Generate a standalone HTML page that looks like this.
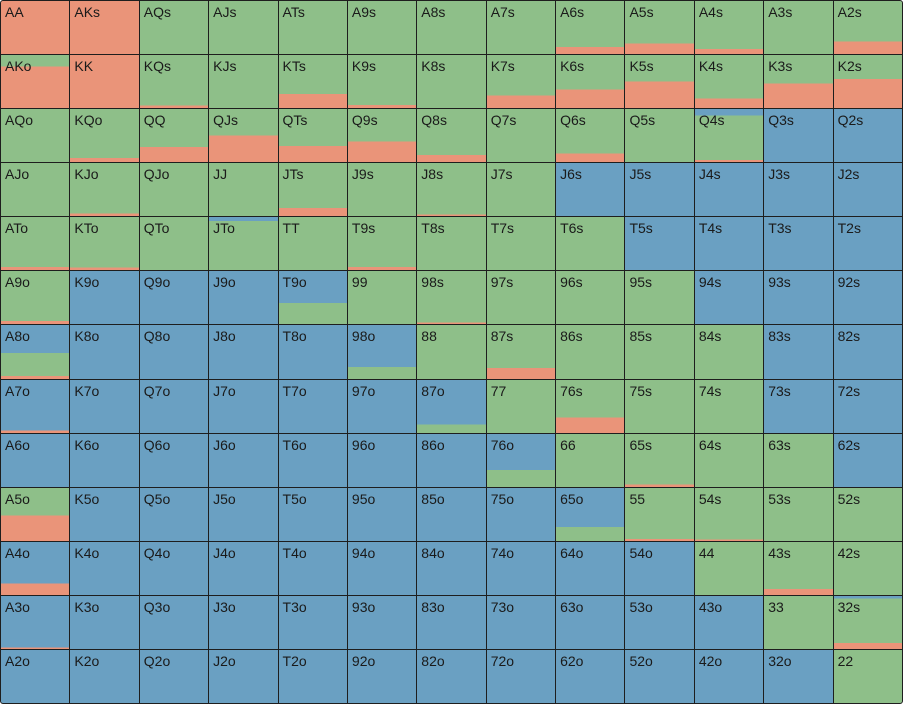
<!DOCTYPE html>
<html><head><meta charset="utf-8"><style>
html,body{margin:0;padding:0;background:#fff}
#g{position:absolute;left:0;top:0;width:903px;height:704px;box-sizing:border-box;border:1.5px solid #1e1e1e;border-radius:3px;background:#1e1e1e;display:grid;grid-template-columns:repeat(13,1fr);grid-template-rows:repeat(13,1fr);gap:1px;overflow:hidden}
#g div{font-family:"Liberation Sans",Arial,sans-serif;font-size:14px;color:#1a1a1a;padding:4px 0 0 4px;box-sizing:border-box;background:#8EBF89;line-height:15px}
.B{background:#6AA0C2!important}
.R{background:#EA9479!important}
</style></head><body><div id="g">
<div class="R">AA</div><div class="R">AKs</div><div>AQs</div><div>AJs</div><div>ATs</div><div>A9s</div><div>A8s</div><div>A7s</div><div style="background:linear-gradient(#8EBF89 87%,#EA9479 87%)">A6s</div><div style="background:linear-gradient(#8EBF89 80%,#EA9479 80%)">A5s</div><div style="background:linear-gradient(#8EBF89 91%,#EA9479 91%)">A4s</div><div>A3s</div><div style="background:linear-gradient(#8EBF89 76%,#EA9479 76%)">A2s</div>
<div style="background:linear-gradient(#8EBF89 22%,#EA9479 22%)">AKo</div><div class="R">KK</div><div style="background:linear-gradient(#8EBF89 95%,#EA9479 95%)">KQs</div><div>KJs</div><div style="background:linear-gradient(#8EBF89 74%,#EA9479 74%)">KTs</div><div style="background:linear-gradient(#8EBF89 94%,#EA9479 94%)">K9s</div><div>K8s</div><div style="background:linear-gradient(#8EBF89 76%,#EA9479 76%)">K7s</div><div style="background:linear-gradient(#8EBF89 65%,#EA9479 65%)">K6s</div><div style="background:linear-gradient(#8EBF89 50%,#EA9479 50%)">K5s</div><div style="background:linear-gradient(#8EBF89 82%,#EA9479 82%)">K4s</div><div style="background:linear-gradient(#8EBF89 54%,#EA9479 54%)">K3s</div><div style="background:linear-gradient(#8EBF89 45%,#EA9479 45%)">K2s</div>
<div>AQo</div><div style="background:linear-gradient(#8EBF89 92%,#EA9479 92%)">KQo</div><div style="background:linear-gradient(#8EBF89 72%,#EA9479 72%)">QQ</div><div style="background:linear-gradient(#8EBF89 50%,#EA9479 50%)">QJs</div><div style="background:linear-gradient(#8EBF89 70%,#EA9479 70%)">QTs</div><div style="background:linear-gradient(#8EBF89 61%,#EA9479 61%)">Q9s</div><div style="background:linear-gradient(#8EBF89 87%,#EA9479 87%)">Q8s</div><div>Q7s</div><div style="background:linear-gradient(#8EBF89 84%,#EA9479 84%)">Q6s</div><div>Q5s</div><div style="background:linear-gradient(#6AA0C2 12%,#8EBF89 12%,#8EBF89 96%,#EA9479 96%)">Q4s</div><div class="B">Q3s</div><div class="B">Q2s</div>
<div>AJo</div><div style="background:linear-gradient(#8EBF89 95%,#EA9479 95%)">KJo</div><div>QJo</div><div>JJ</div><div style="background:linear-gradient(#8EBF89 85%,#EA9479 85%)">JTs</div><div>J9s</div><div style="background:linear-gradient(#8EBF89 97%,#EA9479 97%)">J8s</div><div>J7s</div><div class="B">J6s</div><div class="B">J5s</div><div class="B">J4s</div><div class="B">J3s</div><div class="B">J2s</div>
<div style="background:linear-gradient(#8EBF89 94%,#EA9479 94%)">ATo</div><div style="background:linear-gradient(#8EBF89 95%,#EA9479 95%)">KTo</div><div>QTo</div><div style="background:linear-gradient(#6AA0C2 8%,#8EBF89 8%)">JTo</div><div>TT</div><div style="background:linear-gradient(#8EBF89 94%,#EA9479 94%)">T9s</div><div>T8s</div><div>T7s</div><div>T6s</div><div class="B">T5s</div><div class="B">T4s</div><div class="B">T3s</div><div class="B">T2s</div>
<div style="background:linear-gradient(#8EBF89 94%,#EA9479 94%)">A9o</div><div class="B">K9o</div><div class="B">Q9o</div><div class="B">J9o</div><div style="background:linear-gradient(#6AA0C2 60%,#8EBF89 60%)">T9o</div><div>99</div><div style="background:linear-gradient(#8EBF89 97%,#EA9479 97%)">98s</div><div>97s</div><div>96s</div><div>95s</div><div class="B">94s</div><div class="B">93s</div><div class="B">92s</div>
<div style="background:linear-gradient(#6AA0C2 52%,#8EBF89 52%,#8EBF89 94%,#EA9479 94%)">A8o</div><div class="B">K8o</div><div class="B">Q8o</div><div class="B">J8o</div><div class="B">T8o</div><div style="background:linear-gradient(#6AA0C2 78%,#8EBF89 78%)">98o</div><div>88</div><div style="background:linear-gradient(#8EBF89 80%,#EA9479 80%)">87s</div><div>86s</div><div>85s</div><div>84s</div><div class="B">83s</div><div class="B">82s</div>
<div style="background:linear-gradient(#6AA0C2 95%,#EA9479 95%)">A7o</div><div class="B">K7o</div><div class="B">Q7o</div><div class="B">J7o</div><div class="B">T7o</div><div class="B">97o</div><div style="background:linear-gradient(#6AA0C2 84%,#8EBF89 84%)">87o</div><div>77</div><div style="background:linear-gradient(#8EBF89 71%,#EA9479 71%)">76s</div><div>75s</div><div>74s</div><div class="B">73s</div><div class="B">72s</div>
<div class="B">A6o</div><div class="B">K6o</div><div class="B">Q6o</div><div class="B">J6o</div><div class="B">T6o</div><div class="B">96o</div><div class="B">86o</div><div style="background:linear-gradient(#6AA0C2 68%,#8EBF89 68%)">76o</div><div>66</div><div style="background:linear-gradient(#8EBF89 95%,#EA9479 95%)">65s</div><div>64s</div><div>63s</div><div class="B">62s</div>
<div style="background:linear-gradient(#8EBF89 52%,#EA9479 52%)">A5o</div><div class="B">K5o</div><div class="B">Q5o</div><div class="B">J5o</div><div class="B">T5o</div><div class="B">95o</div><div class="B">85o</div><div class="B">75o</div><div style="background:linear-gradient(#6AA0C2 74%,#8EBF89 74%)">65o</div><div style="background:linear-gradient(#8EBF89 96%,#EA9479 96%)">55</div><div style="background:linear-gradient(#8EBF89 97%,#EA9479 97%)">54s</div><div>53s</div><div>52s</div>
<div style="background:linear-gradient(#6AA0C2 78%,#EA9479 78%)">A4o</div><div class="B">K4o</div><div class="B">Q4o</div><div class="B">J4o</div><div class="B">T4o</div><div class="B">94o</div><div class="B">84o</div><div class="B">74o</div><div class="B">64o</div><div class="B">54o</div><div>44</div><div style="background:linear-gradient(#8EBF89 89%,#EA9479 89%)">43s</div><div>42s</div>
<div style="background:linear-gradient(#6AA0C2 97%,#EA9479 97%)">A3o</div><div class="B">K3o</div><div class="B">Q3o</div><div class="B">J3o</div><div class="B">T3o</div><div class="B">93o</div><div class="B">83o</div><div class="B">73o</div><div class="B">63o</div><div class="B">53o</div><div class="B">43o</div><div>33</div><div style="background:linear-gradient(#6AA0C2 5%,#8EBF89 5%,#8EBF89 89%,#EA9479 89%)">32s</div>
<div class="B">A2o</div><div class="B">K2o</div><div class="B">Q2o</div><div class="B">J2o</div><div class="B">T2o</div><div class="B">92o</div><div class="B">82o</div><div class="B">72o</div><div class="B">62o</div><div class="B">52o</div><div class="B">42o</div><div class="B">32o</div><div>22</div>
</div></body></html>
